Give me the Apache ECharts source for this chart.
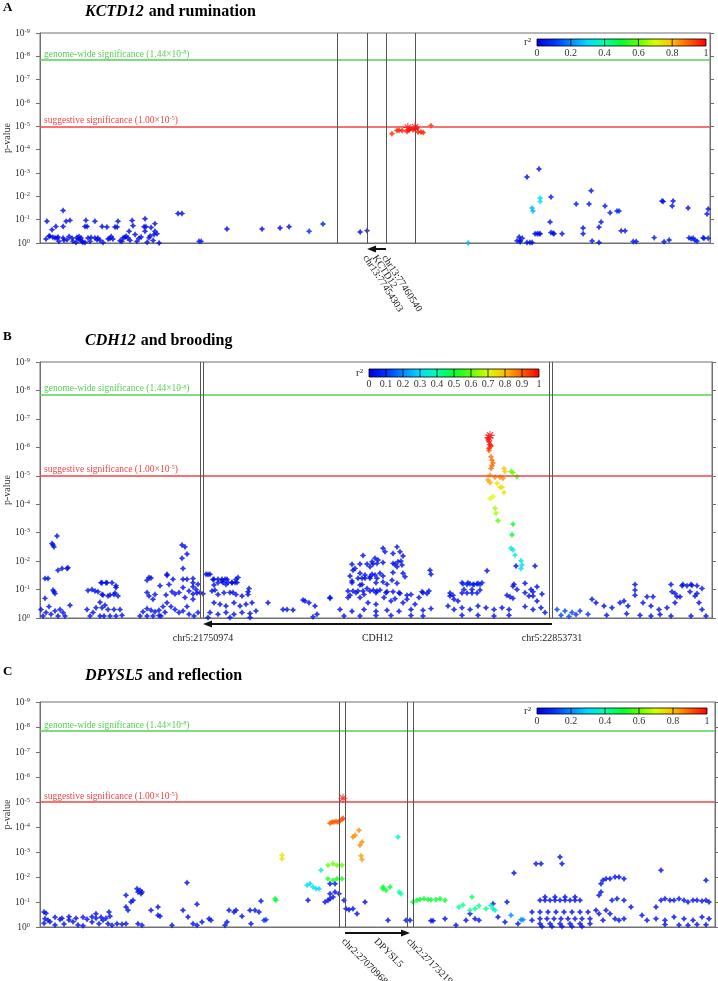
<!DOCTYPE html>
<html><head><meta charset="utf-8">
<script src="https://cdn.jsdelivr.net/npm/echarts@6/dist/echarts.min.js"></script>
<style>html,body{margin:0;padding:0;background:#fff}#c{width:718px;height:981px}</style>
</head><body><div id="c"></div>
<script>
// ---------- DATA (position kb from region start, -log10 p, r2) ----------
const panelLetters = ['A','B','C'];
const geneNames = ['KCTD12','CDH12','DPYSL5'];
const traitNames = ['rumination','brooding','reflection'];
const geneLeftLabel = ['chr13:77454303','chr5:21750974','chr2:27070968'];
const geneRightLabel = ['chr13:77460540','chr5:22853731','chr2:27173219'];
const geneArrows = [[115.3,109],[1536,489],[457.5,555]]; // [tail, tip]
const flankLines = [[99,109,115.3,125],[480,489,1527,1536],[448.5,457.5,550.5,559.5]];
const regionMax = [223.3,2016,1012.5];
const yTicks = [0,1,2,3,4,5,6,7,8,9];
const thresholds = [7.842,5];
const cbTicks5 = ['0','0.2','0.4','0.6','0.8','1'];
const cbTicks10 = ['0','0.1','0.2','0.3','0.4','0.5','0.6','0.7','0.8','0.9','1'];

const snpsA = [
[2,0.17,.02],[2.3,0.93,.02],[3,0.3,.02],[3.3,0.29,.02],[4,0.57,.02],[4.3,0.25,.02],[5,0.22,.02],[5.3,0.71,.02],[5.7,0.2,.02],[6,0.26,.02],[6.3,0.07,.02],[7.7,1.39,.02],[7.7,0.71,.02],[7.7,0.21,.02],[8,0.12,.02],[8.7,0.93,.02],[9,0.14,.02],[9.7,0.28,.02],[10,0.97,.02],[10.7,0.2,.02],[11,0.07,.02],[12,0.02,.02],[12.3,0.24,.02],[12.7,0.17,.02],[13,0.28,.02],[13.3,0.14,.02],[13.7,0.21,.02],[14,0.07,.02],[14.3,0.03,.02],[15,0.71,.02],[15,0.02,.02],[15.3,0.97,.02],[15.7,0.71,.02],[16,0.21,.02],[16.7,0.07,.02],[17,0.24,.02],[18.3,0.93,.02],[18.3,0.21,.02],[19,0.14,.02],[19.3,0.21,.02],[20,0.12,.02],[20.7,0.71,.02],[21,0.02,.02],[22.3,0.69,.02],[22.7,0.17,.02],[23.3,0.19,.02],[23.7,0.28,.02],[24.3,0.17,.02],[25,0.69,.02],[25.7,0.69,.02],[26,0.93,.02],[26.7,0.1,.02],[27.3,0.07,.02],[27.7,0.22,.02],[28.3,0.25,.02],[28.7,0.29,.02],[29.3,0.21,.02],[29.7,0.5,.02],[30,0.12,.02],[30.7,0.96,.02],[31,0.74,.02],[31.7,0.36,.02],[32.3,0.07,.02],[33,0.2,.02],[33.7,0.26,.02],[34.7,0.7,.02],[35,1.04,.02],[35.3,0.7,.02],[35,0.5,.02],[35.7,0.03,.02],[36.3,0.22,.02],[36.7,0.3,.02],[37,0.66,.02],[37.7,0.11,.02],[38,0.36,.02],[38.3,0.5,.02],[38.3,0.83,.02],[39,0.4,.02],[39.7,0,.02],[46,1.26,.02],[47.3,1.26,.02],[53,0.07,.05],[53.7,0.07,.05],[62.3,0.6,.02],[74,0.6,.02],[80,0.64,.02],[83,0.7,.02],[89.7,0.5,.08],[94.3,0.81,.05],[106.7,0.47,.02],[109,0.53,.02],
[117.3,4.68,.95],[119,4.82,.96],[119.7,4.83,.96],[120.7,4.82,.97],[122.3,4.78,.98],[123,4.84,.98],[123.3,4.9,.99],[124.3,4.85,.98],[125,4.9,.99],[125.7,4.93,.99],[126,4.76,.97],[127,4.76,.97],[127.7,4.74,.96],[130.3,5.03,.95],
[142.7,0,.25],[162.3,2.83,.03],[166.3,3.17,.03],[164,1.5,.25],[164.3,1.37,.25],[166.7,1.93,.3],[166.7,1.78,.3],[170.3,1.97,.05],[170,0.9,.03],[170.3,0.45,.03],[171,0.42,.03],[171.3,0.4,.03],[159,0.1,.03],[159.7,0.26,.03],[160,0.1,.03],[160.7,0.2,.03],[160,0.05,.03],[162.3,0.02,.03],[163.3,0.02,.03],[164,0.02,.03],[165,0.4,.03],[165.7,0.4,.03],[166.3,0.4,.03],[166.7,0.4,.03],[174,0.4,.03],[178.7,1.67,.05],[183,1.67,.05],[183.7,2.24,.03],[181,0.64,.03],[181,0.4,.03],[184,0.09,.03],[186.3,0.02,.03],[186.3,0.68,.03],[187,0.9,.03],[188.3,1.59,.05],[190,1.3,.05],[192.3,1.37,.08],[193,1.37,.08],[193.7,0.52,.03],[195,0.52,.03],[197.7,0.06,.05],[198.7,0.06,.05],[204.7,0.23,.05],[207.3,1.8,.03],[207.7,1.78,.03],[210.7,1.59,.03],[211,1.8,.03],[208,0.05,.03],[209.7,0.13,.03],[216,1.5,.03],[216.3,0.22,.05],[217,0.18,.05],[217.7,0.2,.05],[218.3,0.12,.05],[219,0.08,.05],[221,0.22,.05],[221.3,0.2,.05],[222.3,1.24,.03],[222.7,1.46,.03],[222.7,0.2,.05]
];
const topA = [[122.6,4.95],[125,4.97]];

const snpsB = [
[15,1.39,.03],[24,1.39,.03],[36,2.62,.03],[39,2.57,.03],[42,2.5,.03],[51,2.88,.03],[39,0.98,.03],[42,0.92,.03],[45,0.86,.03],[54,1.68,.03],[66,1.74,.03],[81,1.74,.03],[84,1.77,.03],[15,0.69,.03],
[3,0.3,.03],[9,0.07,.03],[18,0.19,.03],[27,0.4,.03],[33,0.13,.03],[45,0.25,.03],[54,0.07,.03],[60,0.3,.03],[69,0.19,.03],[75,0.07,.03],[90,0.45,.03],
[144,0.97,.03],[156,1.0,.03],[165,0.95,.03],[174,0.92,.03],[183,1.24,.03],[201,1.24,.03],[189,0.81,.03],[210,0.81,.03],[225,0.88,.03],[228,1.07,.03],
[141,0.3,.03],[150,0.07,.03],[159,0.19,.03],[168,0.36,.03],[180,0.55,.03],[195,0.45,.03],
[186,1.24,.03],[198,1.24,.03],[216,1.24,.03],[228,1.13,.03],[186,0.83,.03],[204,0.77,.03],[222,0.83,.03],[234,0.77,.03],[186,0.36,.03],[204,0.3,.03],[222,0.3,.03],[180,0.07,.03],[192,0.07,.03],[210,0.07,.03],[228,0.07,.03],
[240,0.3,.03],[246,0.1,.03],[300,0.07,.03],[309,0.22,.03],
[321,1.33,.03],[333,1.41,.03],[327,1.42,.03],[321,0.9,.03],[327,0.77,.03],[339,0.66,.03],[345,0.83,.03],[321,0.33,.03],[333,0.27,.03],[345,0.22,.03],[357,0.27,.03],[321,0.07,.03],[339,0.07,.03],[357,0.09,.03],
[360,1.13,.03],[381,1.49,.03],[396,0.92,.03],[405,0.84,.03],[378,0.81,.03],[363,0.07,.03],[375,0.2,.03],
[381,1.54,.03],[387,1.18,.03],[399,1.36,.03],[417,0.9,.03],[429,1.07,.03],[435,0.72,.03],[369,0.4,.03],[381,0.54,.03],[393,0.4,.03],[405,0.3,.03],[417,0.19,.03],[429,0.25,.03],[441,0.4,.03],
[426,2.57,.03],[435,2.5,.03],[441,2.25,.03],[426,2.1,.03],[429,1.74,.03],[429,1.36,.03],[441,1.36,.03],
[447,0.95,.03],[459,0.66,.03],[468,1.0,.03],[474,1.19,.03],[447,0.13,.03],[462,0.07,.03],[474,0.19,.03],
[459,1.39,.03],[459,1.24,.03],[459,1.1,.03],[471,0.88,.03],[480,0.9,.03],[489,0.85,.03],[459,0.84,.03],
[498,1.54,.03],[510,1.54,.03],[504,1.53,.03],[519,1.35,.03],[522,1.16,.03],[525,0.98,.03],
[534,1.36,.03],[546,1.36,.03],[555,1.36,.03],[561,1.36,.03],[549,1.25,.03],[564,1.25,.03],[576,1.25,.03],[585,1.25,.03],[591,1.25,.03],[570,0.9,.03],[579,0.9,.03],
[522,1.36,.03],[534,1.24,.03],[546,1.3,.03],[558,1.18,.03],[576,1.24,.03],[588,1.36,.03],[594,1.42,.03],
[516,0.95,.03],[534,0.83,.03],[552,0.89,.03],[588,0.83,.03],[606,0.77,.03],[624,0.83,.03],
[522,0.54,.03],[540,0.48,.03],[558,0.42,.03],[582,0.54,.03],[600,0.42,.03],[618,0.48,.03],[636,0.54,.03],
[510,0.19,.03],[534,0.13,.03],[558,0.19,.03],[582,0.13,.03],[606,0.19,.03],[630,0.16,.03],[648,0.25,.03],[504,0.02,.03],[570,0.02,.03],[630,0.02,.03],
[627,1.04,.03],[624,0.92,.03],
[684,0.54,.03],[729,0.3,.03],[741,0.3,.03],[759,0.28,.03],[789,0.63,.03],[795,0.6,.03],[807,0.54,.03],[825,0.42,.03],[831,0.13,.03],[819,0.04,.03],[870,0.72,.03],[870,0.69,.03],
[924,0.95,.03],[930,0.8,.03],[936,1.24,.03],[939,1.68,.03],[945,1.74,.03],[939,0.95,.03],[954,0.95,.03],[969,0.95,.03],[990,0.95,.03],[1011,0.95,.03],
[960,1.9,.03],[969,2.2,.03],[981,1.9,.03],[990,1.8,.03],[999,1.9,.03],[1014,2.04,.03],[954,1.4,.03],[966,1.4,.03],[975,1.4,.03],[990,1.4,.03],[1011,1.4,.03],
[996,1.98,.03],[1011,1.92,.03],[1005,2.1,.03],[1029,2.45,.03],[1035,2.33,.03],[1059,2.27,.03],[1071,2.5,.03],[1080,2.33,.03],[1089,2.18,.03],[1059,1.92,.03],[1071,1.8,.03],[1074,1.98,.03],[1086,1.86,.03],
[960,1.57,.03],[975,1.51,.03],[990,1.45,.03],[1005,1.51,.03],[1020,1.57,.03],[1029,1.27,.03],[1041,1.19,.03],[1056,1.33,.03],[1071,1.22,.03],[1089,1.57,.03],[1095,1.45,.03],
[960,1.16,.03],[981,1.04,.03],[1000,0.98,.03],[1020,0.98,.03],[1041,0.92,.03],[1059,0.92,.03],[1080,0.86,.03],[1101,0.8,.03],
[936,1.89,.03],[1029,1.95,.03],[1065,1.89,.03],[1083,2.0,.03],[930,1.48,.03],[996,1.54,.03],[1029,1.48,.03],[1059,1.6,.03],
[936,1.3,.03],[966,1.18,.03],[1008,1.24,.03],
[948,0.89,.03],[972,0.83,.03],[1008,0.89,.03],[1038,0.89,.03],[1077,0.89,.03],[1113,0.83,.03],[1149,0.89,.03],[1167,0.95,.03],
[924,0.72,.03],[960,0.72,.03],[1032,0.72,.03],[1065,0.68,.03],[1101,0.66,.03],[1137,0.72,.03],
[900,0.3,.03],[936,0.24,.03],[972,0.3,.03],[1008,0.24,.03],[1041,0.27,.03],[1077,0.24,.03],[1113,0.3,.03],[1149,0.27,.03],[1173,0.33,.03],
[912,0.07,.03],[960,0.07,.03],[1008,0.09,.03],[1053,0.09,.03],[1113,0.09,.03],[1149,0.07,.03],
[1053,0.6,.03],[1089,0.54,.03],[1125,0.48,.03],[984,0.54,.03],[1008,0.48,.03],
[1170,1.68,.03],[1173,1.54,.03],[1146,0.92,.03],[1161,0.86,.03],
[1230,0.77,.03],[1242,0.66,.03],[1254,0.6,.03],[1230,0.88,.03],[1239,0.8,.03],
[1266,1.24,.06],[1269,1.2,.06],[1281,1.18,.06],[1284,1.24,.06],[1290,1.2,.06],[1299,1.18,.06],[1302,1.18,.06],[1311,1.2,.06],[1314,1.21,.06],[1320,1.18,.06],[1326,1.24,.06],
[1266,0.88,.03],[1272,1.0,.03],[1281,0.88,.03],[1296,1.0,.03],[1296,0.88,.03],[1311,0.88,.03],[1320,0.98,.03],
[1224,0.42,.03],[1242,0.3,.03],[1266,0.36,.03],[1290,0.3,.03],[1314,0.42,.03],[1338,0.36,.03],[1362,0.3,.03],[1386,0.36,.03],[1407,0.3,.03],
[1266,0.1,.03],[1314,0.1,.03],[1362,0.07,.03],[1407,0.1,.03],
[1341,1.66,.03],[1428,1.83,.03],[1485,1.83,.03],[1422,1.19,.03],[1419,1.12,.03],[1431,1.0,.03],[1455,1.22,.03],
[1401,0.8,.03],[1410,0.75,.03],[1419,0.69,.03],
[1473,1.0,.03],[1479,0.92,.03],[1491,1.1,.03],[1506,0.84,.03],
[1455,0.89,.03],[1467,0.77,.03],[1479,0.77,.03],[1491,0.6,.03],[1455,0.4,.03],[1479,0.3,.03],[1503,0.36,.03],[1515,0.19,.03],
[1413,2.45,.33],[1419,2.39,.33],[1425,2.21,.33],[1443,2.01,.3],[1446,1.86,.3],[1443,1.74,.3],
[1416,2.93,.5],[1419,3.3,.5],[1374,3.42,.6],[1365,3.86,.65],[1368,3.68,.65],
[1350,4.2,.7],[1359,4.27,.7],[1392,4.41,.75],[1371,4.74,.75],[1380,4.6,.75],[1386,4.6,.75],
[1392,5.26,.78],[1395,5.15,.78],[1413,5.15,.6],[1419,5.11,.6],[1431,4.97,.55],
[1365,4.95,.85],[1380,4.95,.85],[1389,4.91,.85],[1344,4.85,.82],[1350,4.76,.82],[1350,5.03,.82],
[1353,5.67,.88],[1356,5.55,.88],[1359,5.45,.88],[1356,5.35,.88],[1353,5.26,.88],[1347,5.89,.9],
[1344,6.3,.98],[1347,6.2,.99],[1350,6.1,.98],[1353,6.05,.97],[1347,5.97,.97],
[1551,0.3,.12],[1575,0.25,.12],[1596,0.19,.12],[1620,0.25,.1],[1644,0.13,.1],[1563,0.1,.12],[1587,0.05,.12],[1608,0.12,.1],
[1656,0.66,.03],[1668,0.54,.03],[1692,0.42,.03],[1716,0.36,.03],
[1740,0.54,.03],[1752,0.6,.03],[1764,0.42,.03],[1785,1.18,.03],[1785,0.98,.03],[1785,0.8,.03],
[1809,0.54,.03],[1833,0.42,.03],[1857,0.3,.03],[1881,0.36,.03],[1821,0.75,.03],[1839,0.75,.03],
[1893,1.18,.03],[1905,0.54,.03],[1929,1.18,.03],[1941,1.13,.03],[1953,1.18,.03],[1965,0.77,.03],[1977,0.54,.03],[1986,0.3,.03],
[1911,0.75,.03],[1920,0.75,.03],[1926,1.13,.03],[1956,1.15,.03],[1971,1.13,.03],[1986,1.04,.03],[1950,0.92,.03],[1971,0.86,.03],[1896,0.92,.03],[1905,0.86,.03],
[1833,0.07,.03],[1893,0.07,.03],[1953,0.07,.03],[1998,0.07,.03],[1700,0.1,.03],[1760,0.15,.03],[1800,0.1,.03],[1860,0.12,.03]
];
const topB = [[1350,6.42],[1347,6.34]];

const snpsC = [
[6,0.6,.03],[9,0.55,.03],[7.5,0.33,.03],[12,0.27,.03],
[6,0.15,.03],[15,0.21,.03],[22.5,0.08,.03],[30,0.3,.03],[36,0.12,.03],[43.5,0.28,.03],[49.5,0.21,.03],[57,0.08,.03],[64.5,0.05,.03],
[22.5,0.39,.03],[33,0.35,.03],[43.5,0.41,.03],[54,0.35,.03],[64.5,0.39,.03],[70.5,0.31,.03],[78,0.41,.03],[84,0.35,.03],[91.5,0.39,.03],[99,0.35,.03],[105,0.43,.03],
[78,0.2,.03],[88.5,0.13,.03],[94.5,0.27,.03],[102,0.13,.03],[108,0.07,.03],[84,0.53,.03],[103.5,0.6,.03],
[115.5,0.13,.03],[123,0.11,.03],[129,0.13,.03],
[129,1.27,.03],[129,0.8,.03],[136.5,1.0,.03],[139.5,1.07,.03],[132,0.67,.03],
[147,1.4,.03],[150,1.47,.03],[153,1.4,.03],[145.5,1.53,.03],[151.5,1.33,.03],[147,0.13,.03],[153,0.07,.03],
[166.5,0.67,.03],[177,0.8,.03],[177,0.47,.03],[180,0.43,.03],[198,0.07,.03],
[214.5,0.67,.03],[222,0.4,.03],[220.5,1.77,.03],[235.5,0.91,.03],
[229.5,0.13,.03],[235.5,0.07,.03],[243,0.2,.03],[253.5,0.33,.03],[256.5,0.27,.03],
[277.5,0.07,.03],[280.5,0.2,.03],[283.5,0.67,.03],[291,0.6,.03],[294,0.67,.03],[303,0.43,.03],[316.5,0.13,.03],[315,0.67,.03],[322.5,0.67,.03],[328.5,0.6,.03],[331.5,1.04,.03],[336,0.27,.1],[339,0.29,.1],
[352.5,1.13,.5],[354,1.07,.5],[363,2.87,.75],[363,2.73,.75],
[400.5,1.67,.3],[405,1.73,.3],[409.5,1.6,.3],[414,1.53,.3],[418.5,1.53,.3],[421.5,2.27,.35],[402,1.07,.03],
[427.5,1.0,.03],[432,1.07,.03],[435,1.13,.03],[439.5,1.2,.03],[435,1.33,.03],[442.5,1.4,.03],[448.5,1.33,.03],[435,1.73,.03],[442.5,1.73,.03],
[432,2.47,.6],[439.5,2.53,.6],[445.5,2.47,.6],[453,2.47,.6],[432,1.93,.52],[439.5,1.87,.52],[445.5,1.93,.52],[453,1.93,.52],
[456,1.07,.03],[459,0.73,.03],[463.5,0.69,.03],[469.5,0.73,.03],[475.5,0.53,.03],[487.5,1.0,.03],
[435,4.15,.9],[438,4.2,.9],[441,4.2,.9],[444,4.22,.9],[447,4.2,.9],[450,4.25,.9],[453,4.3,.9],[454.5,4.35,.92],
[469.5,3.6,.85],[472.5,3.67,.85],[478.5,3.87,.85],[483,3.4,.85],[480,3.27,.85],[481.5,2.85,.83],[483,2.7,.83],
[514.5,1.53,.5],[519,1.47,.5],[525,1.6,.5],[514.5,1.6,.5],[537,3.6,.35],[522,0.27,.03],[538.5,1.4,.4],[541.5,1.33,.4],[549,0.27,.03],[555,0.27,.03],
[559.5,1.0,.5],[565.5,1.07,.5],[570,1.1,.5],[576,1.13,.5],[582,1.1,.5],[586.5,1.09,.5],[594,1.1,.5],[600,1.13,.5],[607.5,1.07,.5],
[586.5,0.25,.03],[589.5,0.25,.03],[607.5,0.33,.03],[624,0.07,.03],
[628.5,0.8,.42],[634.5,0.88,.42],[645,0.67,.42],[652.5,0.73,.42],[658.5,0.85,.42],[669,0.73,.42],[648,1.2,.45],
[639,0.27,.03],[645,0.53,.03],[652.5,0.33,.03],[658.5,0.27,.03],
[676.5,0.87,.35],[679.5,0.73,.35],[682.5,0.67,.35],[679.5,0.93,.03],[687,0.4,.03],[697.5,0.2,.03],[700.5,1.0,.03],[706.5,0.47,.2],[711,2.16,.03],[721.5,0.29,.2],[724.5,0.29,.2],[717,0.13,.03],
[738,0.6,.03],[738,0.27,.03],[744,2.53,.03],[751.5,2.53,.03],[780,2.8,.03],[783,2.53,.03],
[750,1.07,.03],[757.5,1.07,.03],[765,1.07,.03],[772.5,1.07,.03],[780,1.07,.03],[787.5,1.07,.03],[795,1.07,.03],[802.5,1.07,.03],[810,1.07,.03],
[757.5,1.2,.03],[772.5,1.2,.03],[787.5,1.2,.03],[802.5,1.2,.03],
[750,0.6,.03],[762,0.6,.03],[774,0.6,.03],[786,0.6,.03],[798,0.6,.03],[810,0.6,.03],[822,0.6,.03],
[750,0.33,.03],[760.5,0.33,.03],[771,0.33,.03],[781.5,0.33,.03],[792,0.33,.03],[802.5,0.33,.03],[813,0.33,.03],[825,0.33,.03],
[750,0.13,.03],[765,0.13,.03],[780,0.13,.03],[795,0.13,.03],[810,0.13,.03],[825,0.13,.03],
[753,0.02,.03],[768,0.02,.03],[783,0.02,.03],[798,0.02,.03],[813,0.02,.03],
[834,0.67,.03],[838.5,0.53,.03],[844.5,0.27,.03],[841.5,1.73,.03],[844.5,1.87,.03],[849,1.93,.03],[855,1.93,.03],[841.5,1.4,.03],[838.5,1.27,.03],
[862.5,2.0,.03],[868.5,2.0,.03],[876,1.93,.03],[858,1.07,.03],[865.5,1.13,.03],[876,1.07,.03],
[849,0.67,.03],[855,0.53,.03],[862.5,0.33,.03],[868.5,0.27,.03],[876,0.33,.03],[886.5,0.8,.03],[903,0.47,.03],[910.5,0.27,.03],
[931.5,2.27,.03],[924,0.8,.03],
[931.5,1.07,.03],[937.5,1.13,.03],[945,1.07,.03],[951,1.07,.03],[958.5,1.13,.03],[966,1.07,.03],[972,1.0,.03],[979.5,1.07,.03],[985.5,1.07,.03],[993,1.04,.03],[999,1.07,.03],[1003.5,1.0,.03],
[924,0.33,.03],[937.5,0.27,.03],[951,0.4,.03],[966,0.33,.03],[979.5,0.27,.03],[993,0.4,.03],[1003.5,0.33,.03],
[937.5,0.1,.03],[958.5,0.08,.03],[972,0.07,.03],[985.5,0.1,.03],[999,0.09,.03],[999,1.87,.03]
];
const topC = [[454.5,5.15]];

// ---------- STYLE ----------
const SERIF = '"Liberation Serif","DejaVu Serif",serif';
const JET = ['#0000dc','#0030ff','#0088ff','#00dcff','#00ffa8','#00ff30','#60ff00','#d8ff00','#ffbc00','#ff5a00','#ff0000'];
const GREEN = '#55d055', RED = '#f04545', AX = '#707070';
const DOT = 'path://M0,-1L0.38,-0.38L1,0L0.38,0.38L0,1L-0.38,0.38L-1,0L-0.38,-0.38Z';
const STAR = 'path://M-1,-0.12L1,-0.12L1,0.12L-1,0.12Z M0.12,-1L0.12,1L-0.12,1L-0.12,-1Z M-0.622,-0.792L0.792,0.622L0.622,0.792L-0.792,-0.622Z M-0.792,0.622L0.622,-0.792L0.792,-0.622L-0.622,0.792Z';
const grids = [
  {left:40, top:33, width:670, height:210},
  {left:40, top:362, width:672, height:256},
  {left:40, top:702, width:675, height:225}
];
const titleTops = [3, 332, 667];
const labelAngles = [57, 0, 45];
const cbarPos = [[537,39,169,7,cbTicks5],[369,369,170,8,cbTicks10],[537,708,170,6,cbTicks5]];

const supRich = (color, size) => ({
  b: {fontFamily: SERIF, fontSize: size, color, lineHeight: 10, verticalAlign: 'bottom'},
  s: {fontFamily: SERIF, fontSize: size*0.68, color, lineHeight: 6, verticalAlign: 'top'}
});

const chart = echarts.init(document.getElementById('c'), null, {renderer: 'canvas'});
const snps = [snpsA, snpsB, snpsC];
const tops = [topA, topB, topC];

const xAxis = [], yAxis = [], series = [], visualMap = [], title = [];
grids.forEach((g, i) => {
  xAxis.push({type:'value', gridIndex:i, min:0, max:regionMax[i],
    axisLine:{show:true, lineStyle:{color:AX}}, axisTick:{show:false}, axisLabel:{show:false}, splitLine:{show:false}});
  const yBase = {type:'value', gridIndex:i, min:0, max:9, interval:1, splitLine:{show:false},
    axisLine:{show:true, onZero:false, lineStyle:{color:AX}},
    axisTick:{show:true, length:4, inside:false, lineStyle:{color:AX}}};
  yAxis.push(Object.assign({}, yBase, {position:'left',
    axisLabel:{margin:10, formatter: v => '{b|10}{s|' + (v === 0 ? '0' : '-' + v) + '}', rich: supRich('#333', 9.5)}}));
  yAxis.push(Object.assign({}, yBase, {position:'right', axisLabel:{show:false}}));

  const sorted = snps[i].slice().sort((a, b) => a[2] - b[2]);
  const mk = [
    {yAxis: thresholds[0], lineStyle:{color:GREEN, width:1.6, type:'solid'},
      label:{show:true, position:'insideStartTop', distance:[4,1],
        formatter:'{b|genome-wide significance (1.44×10}{s|-8}{b|)}', rich: supRich(GREEN, 9.5)}},
    {yAxis: thresholds[1], lineStyle:{color:RED, width:1.6, type:'solid'},
      label:{show:true, position:'insideStartTop', distance:[4,1],
        formatter:'{b|suggestive significance (1.00×10}{s|-5}{b|)}', rich: supRich(RED, 9.5)}}
  ];
  flankLines[i].forEach(v => mk.push({xAxis: v, lineStyle:{color:'#555', width:1, type:'solid'}, label:{show:false}}));
  const base = series.length;
  series.push({type:'scatter', xAxisIndex:i, yAxisIndex:2*i, data: sorted, symbol: DOT, symbolSize: 6.5,
    animation:false, silent:true,
    markLine:{silent:true, symbol:['none','none'], animation:false, data: mk}});
  series.push({type:'scatter', xAxisIndex:i, yAxisIndex:2*i, data: tops[i], symbol: STAR, symbolSize: 9,
    itemStyle:{color:'#ff1010'}, animation:false, silent:true, z:5});
  series.push({type:'custom', xAxisIndex:i, yAxisIndex:2*i, data:[geneArrows[i]], clip:false, silent:true, animation:false,
    renderItem: (params, api) => {
      const tail = api.coord([api.value(0), 0]);
      const tip = api.coord([api.value(1), 0]);
      const y = tail[1] + 6;
      const dir = tip[0] > tail[0] ? 1 : -1;
      const kids = [
        {type:'line', shape:{x1:tail[0], y1:y, x2:tip[0] - dir*6, y2:y}, style:{stroke:'#111', lineWidth:2}},
        {type:'polygon', shape:{points:[[tip[0], y], [tip[0] - dir*9, y - 3.5], [tip[0] - dir*9, y + 3.5]]}, style:{fill:'#111'}}
      ];
      const lx = Math.min(tail[0], tip[0]), rx = Math.max(tail[0], tip[0]);
      const texts = [geneLeftLabel[i], geneNames[i], geneRightLabel[i]];
      const xs = [lx, (lx + rx) / 2, rx];
      const ang = labelAngles[i];
      texts.forEach((t, k) => {
        if (ang === 0) {
          kids.push({type:'text', x: xs[k], y: y + 14, style:{text:t, font:'10px ' + SERIF, fill:'#222', align:'center', verticalAlign:'middle'}});
        } else {
          kids.push({type:'text', x: xs[k] - 2, y: y + 7, rotation: -ang * Math.PI / 180,
            style:{text:t, font:'10px ' + SERIF, fill:'#222', align:'left', verticalAlign:'middle'}});
        }
      });
      return {type:'group', children: kids};
    }});
  visualMap.push({type:'continuous', show:false, min:0, max:1, dimension:2, seriesIndex:[base], inRange:{color: JET}});
  title.push({text:'{i|' + geneNames[i] + '} {n|and ' + traitNames[i] + '}', left:85, top:titleTops[i], padding:0,
    textStyle:{rich:{
      i:{fontFamily:SERIF, fontSize:16, fontWeight:'bold', fontStyle:'italic', color:'#000'},
      n:{fontFamily:SERIF, fontSize:16, fontWeight:'bold', color:'#000'}}}});
  title.push({text: panelLetters[i], left:3, top:titleTops[i] - 2, padding:0,
    textStyle:{fontFamily:SERIF, fontSize:13, fontWeight:'bold', color:'#000'}});
});

function colorbar(x, y, w, h, ticks) {
  const n = ticks.length - 1;
  const stops = JET.map((c, k) => ({offset: k / (JET.length - 1), color: c}));
  const kids = [{type:'rect', shape:{x, y, width:w, height:h},
    style:{fill: new echarts.graphic.LinearGradient(0, 0, 1, 0, stops), stroke:'#000', lineWidth:0.8}}];
  for (let k = 1; k < n; k++) kids.push({type:'line', shape:{x1:x + w*k/n, y1:y, x2:x + w*k/n, y2:y + h}, style:{stroke:'#000', lineWidth:0.8}});
  ticks.forEach((t, k) => kids.push({type:'text', x: x + w*k/n, y: y + h + 2,
    style:{text:t, font:'10px ' + SERIF, fill:'#333', align:'center', verticalAlign:'top'}}));
  kids.push({type:'text', x: x - 6, y: y + h/2, style:{text:'r²', font:'11px ' + SERIF, fill:'#333', align:'right', verticalAlign:'middle'}});
  return {type:'group', children: kids};
}
const yNames = grids.map(g => ({type:'text', x: 7, y: g.top + g.height / 2, rotation: Math.PI / 2,
  style:{text:'p-value', font:'10px ' + SERIF, fill:'#333', align:'center', verticalAlign:'middle'}}));

chart.setOption({
  backgroundColor:'#fff',
  animation:false,
  title,
  grid: grids.map(g => Object.assign({show:true, borderColor:AX, borderWidth:1, backgroundColor:'transparent', outerBoundsMode:'none', containLabel:false}, g)),
  xAxis, yAxis, series, visualMap,
  graphic: cbarPos.map(p => colorbar(p[0], p[1], p[2], p[3], p[4])).concat(yNames)
});
</script></body></html>
